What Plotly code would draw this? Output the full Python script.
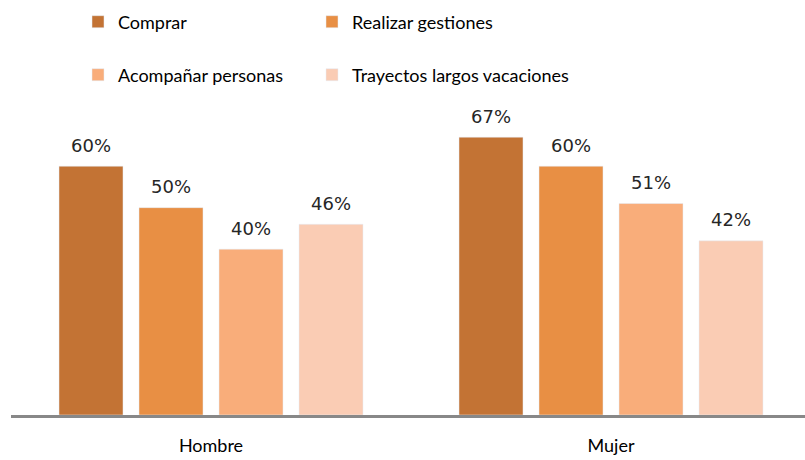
import plotly.graph_objects as go

generos = ["Hombre", "Mujer"]
series = ["Comprar", "Realizar gestiones", "Acompañar personas", "Trayectos largos vacaciones"]
comprar = [60, 67]
gestiones = [50, 60]
acompanar = [40, 51]
trayectos = [46, 42]
colores = ["#C37334", "#E88F44", "#F9AD7A", "#FACCB4"]

valores = [comprar, gestiones, acompanar, trayectos]
leyendas = ["legend", "legend2", "legend3", "legend4"]

fig = go.Figure()
for i, (nombre, vals, color, leg) in enumerate(zip(series, valores, colores, leyendas)):
    fig.add_trace(go.Bar(
        x=generos, y=vals, name=nombre, marker_color=color, legend=leg,
    ))
    # etiquetas de datos encima de cada barra
    for g, v in zip(generos, vals):
        fig.add_annotation(
            x=g, y=v, text=f"{v}%", showarrow=False,
            xshift=(i - 1.5) * 80, yshift=21, yanchor="middle",
            font=dict(family="DejaVu Sans", size=18, color="#262626"),
        )

txt_font = dict(family="Lato, sans-serif", size=18, color="#000000")
posiciones = [(78, 22), (312, 22), (78, 75), (312, 75)]
leg_cfg = {}
for leg, (px_x, px_y) in zip(leyendas, posiciones):
    leg_cfg[leg] = dict(orientation="h", xref="container", yref="container",
                        x=px_x / 805, y=1 - px_y / 460, xanchor="left", yanchor="middle",
                        font=txt_font)

fig.update_layout(
    width=805, height=460,
    margin=dict(l=11, r=0, t=104, b=45),
    plot_bgcolor="white", paper_bgcolor="white",
    barmode="group", bargap=0.2, bargroupgap=0.2,
    showlegend=True,
    xaxis=dict(range=[-0.5, 1.485], showline=True, linecolor="#888888", linewidth=3,
               tickfont=txt_font, ticklabelstandoff=12, showgrid=False),
    yaxis=dict(range=[0, 75], visible=False, showgrid=False),
    **leg_cfg,
)

fig.write_html("out.html", config={"displayModeBar": False},
               post_script="document.body.style.margin='0px';")
